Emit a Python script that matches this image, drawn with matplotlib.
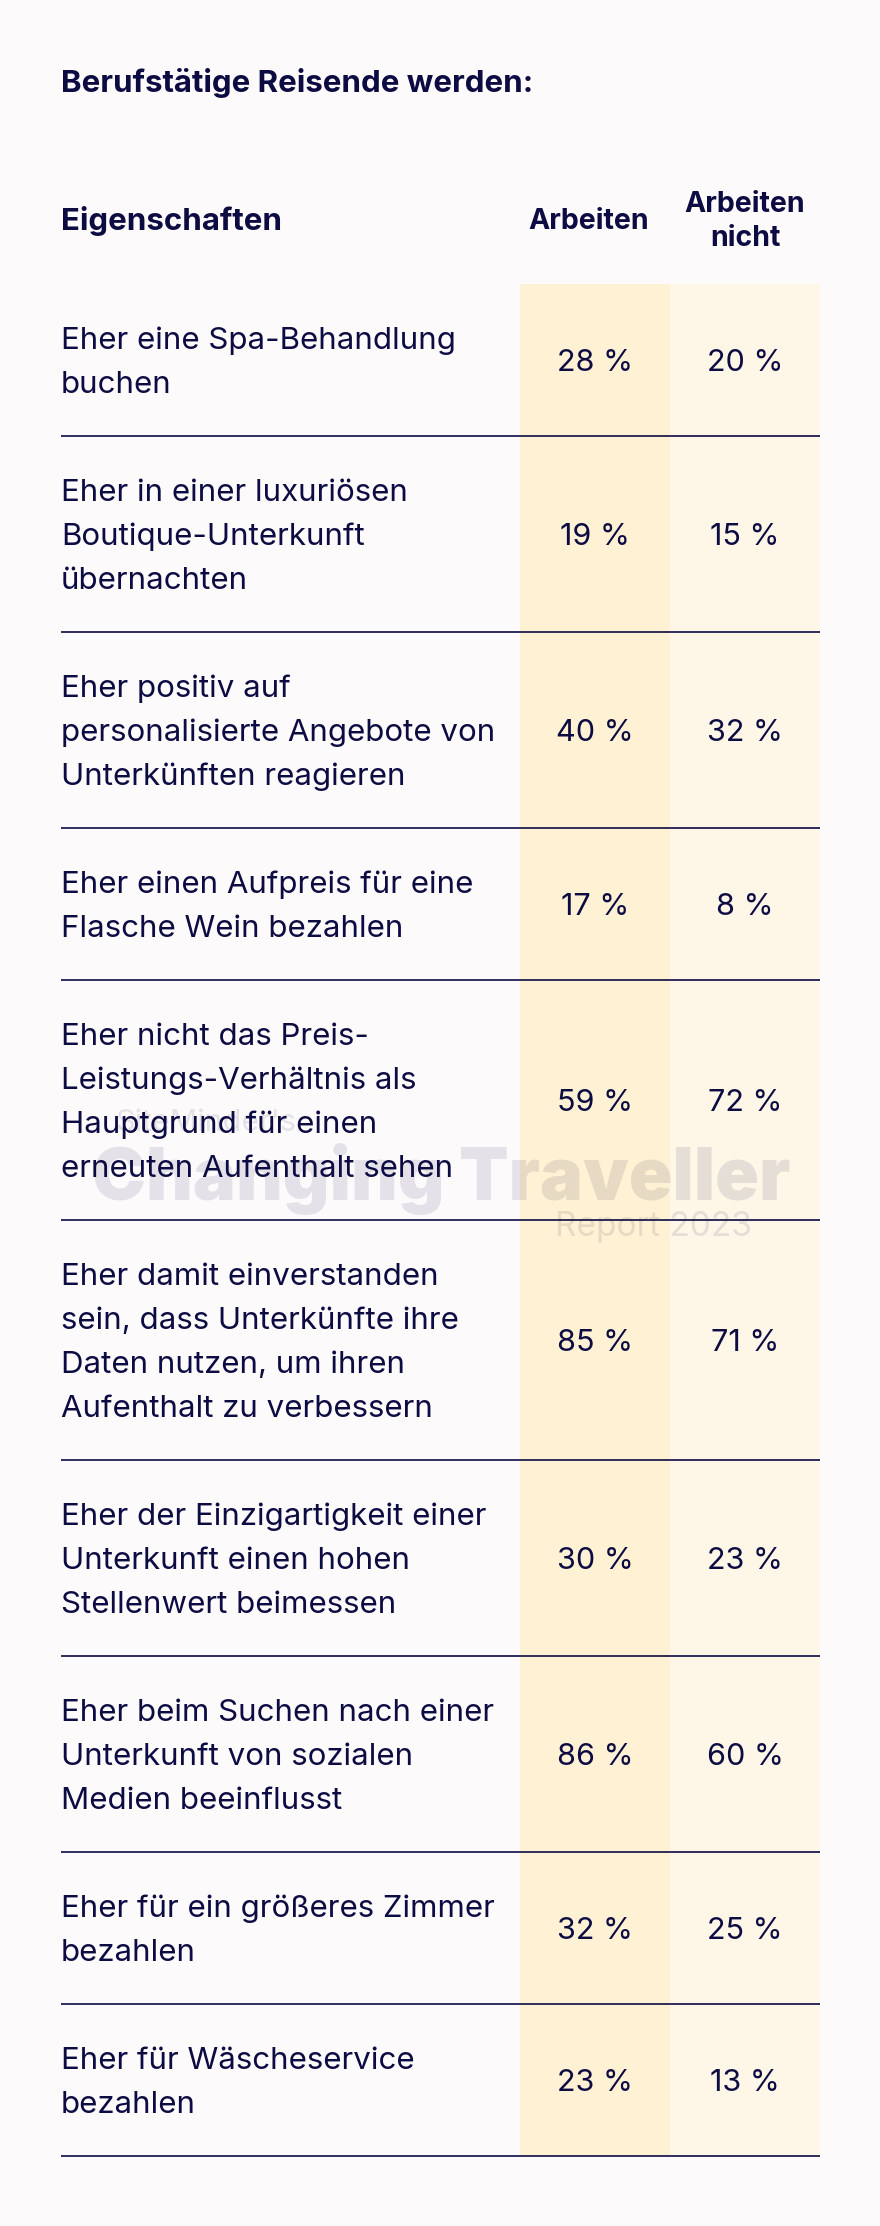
import matplotlib
matplotlib.use("Agg")
import matplotlib.pyplot as plt
import numpy as np

plt.rcParams['font.family'] = ['Inter', 'DejaVu Sans']

# data
title = "Berufstätige Reisende werden:"
col_header = "Eigenschaften"
groups = ["Arbeiten", "Arbeiten\nnicht"]
labels = [
    "Eher eine Spa-Behandlung\nbuchen",
    "Eher in einer luxuriösen\nBoutique-Unterkunft\nübernachten",
    "Eher positiv auf\npersonalisierte Angebote von\nUnterkünften reagieren",
    "Eher einen Aufpreis für eine\nFlasche Wein bezahlen",
    "Eher nicht das Preis-\nLeistungs-Verhältnis als\nHauptgrund für einen\nerneuten Aufenthalt sehen",
    "Eher damit einverstanden\nsein, dass Unterkünfte ihre\nDaten nutzen, um ihren\nAufenthalt zu verbessern",
    "Eher der Einzigartigkeit einer\nUnterkunft einen hohen\nStellenwert beimessen",
    "Eher beim Suchen nach einer\nUnterkunft von sozialen\nMedien beeinflusst",
    "Eher für ein größeres Zimmer\nbezahlen",
    "Eher für Wäscheservice\nbezahlen",
]
arbeiten = [28, 19, 40, 17, 59, 85, 30, 86, 32, 23]
arbeiten_nicht = [20, 15, 32, 8, 72, 71, 23, 60, 25, 13]

navy = "#0c0b42"
bg = "#fdfafc"
col_colors = ["#fff2d4", "#fef6e7"]

W, H = 880, 2226
fig = plt.figure(figsize=(W / 100, H / 100), dpi=100, facecolor=bg)
ax = fig.add_axes([0, 0, 1, 1])
ax.set_xlim(0, W)
ax.set_ylim(H, 0)
ax.axis("off")
ax.set_facecolor(bg)

left, right = 61, 820
col_x = [595, 745]
head_x = [589, 745]
col_w = 150
top = 284
pitch = 44
pad = 64

nlines = [len(s.split("\n")) for s in labels]
heights = [pad + pitch * n for n in nlines]
bottoms = top + np.cumsum(heights)
centers = bottoms - np.array(heights) / 2

# column backgrounds
for i in range(2):
    ax.bar(col_x[i], bottoms[-1] - top, bottom=top, width=col_w,
           color=col_colors[i], zorder=1)

# watermark
wm = dict(color=navy, alpha=0.10, zorder=2)
ax.text(92, 1200, "Changing Traveller", fontsize=52, fontweight="black",
        ha="left", va="baseline", **wm)
ax.text(115, 1131, "SiteMinder's", fontsize=22, ha="left", va="baseline", **wm)
ax.text(752, 1236, "Report 2023", fontsize=24, ha="right", va="baseline", **wm)

# row separators
ax.hlines(bottoms, left, right, color=navy, lw=1.2, zorder=3)

# header
ax.text(left, 92, title, fontsize=22.5, fontweight="bold", color=navy,
        ha="left", va="baseline", zorder=4)
ax.text(left, 230, col_header, fontsize=22.5, fontweight="bold", color=navy,
        ha="left", va="baseline", zorder=4)
for i, g in enumerate(groups):
    parts = g.split("\n")
    base = 229 - 17 * (len(parts) - 1)
    for j, p in enumerate(parts):
        ax.text(head_x[i], base + 34 * j, p, fontsize=20.5, fontweight="bold",
                color=navy, ha="center", va="baseline", zorder=4)

# rows
for k, lab in enumerate(labels):
    parts = lab.split("\n")
    n = len(parts)
    for j, p in enumerate(parts):
        y = centers[k] + (j - (n - 1) / 2) * pitch + 11
        ax.text(left, y, p, fontsize=22.5, color=navy, ha="left",
                va="baseline", zorder=4)
    for i, v in enumerate([arbeiten[k], arbeiten_nicht[k]]):
        ax.text(col_x[i], centers[k] + 11, f"{v} %", fontsize=22,
                color=navy, ha="center", va="baseline", zorder=4)

fig.savefig("out.png", dpi=100, facecolor=bg)
